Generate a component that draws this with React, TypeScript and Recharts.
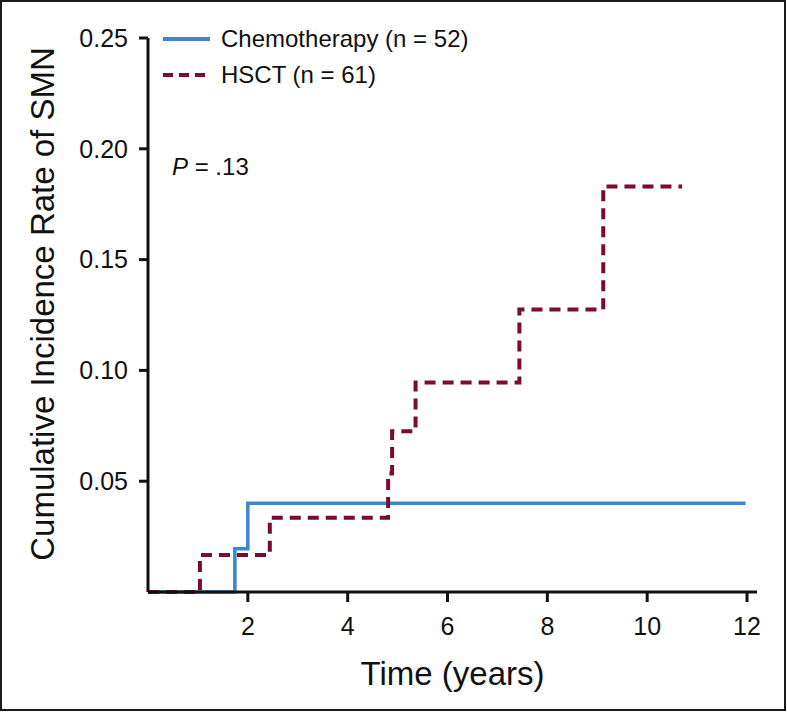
import React from 'react';
import { LineChart, Line, XAxis, YAxis, Label } from 'recharts';

// competing-risk cumulative incidence of SMN
const chemoTimes = [0, 1.74, 2.0, 11.97];
const chemoRates = [0, 0.0195, 0.04, 0.04];
const hsctTimes = [0, 1.04, 2.44, 4.81, 4.89, 5.36, 7.44, 9.12, 10.7];
const hsctRates = [0, 0.0167, 0.0335, 0.0535, 0.0725, 0.0945, 0.1275, 0.183, 0.183];

const xTicks = [2, 4, 6, 8, 10, 12];
const yTicks = [0.05, 0.1, 0.15, 0.2, 0.25];

const seriesNames = ['Chemotherapy (n = 52)', 'HSCT (n = 61)'];
const pValueText = '= .13';

const BLUE = '#3d85d1';
const MAROON = '#7b0b31';
const FONT = "'Liberation Sans', Arial, Helvetica, sans-serif";

const chemoData = chemoTimes.map((t, i) => ({ x: t, y: chemoRates[i] }));
const hsctData = hsctTimes.map((t, i) => ({ x: t, y: hsctRates[i] }));

const legendItems = [
  { name: seriesNames[0], color: BLUE, dash: undefined as string | undefined },
  { name: seriesNames[1], color: MAROON, dash: '10 6' },
];

export default function App() {
  return (
    <div style={{ position: 'absolute', left: 0, top: 0, width: 787, height: 712, background: '#fff', fontFamily: FONT }}>
      <div
        style={{
          position: 'absolute',
          left: 0,
          top: 0,
          width: 786,
          height: 711,
          border: '2px solid #1a1a1a',
          boxSizing: 'border-box',
        }}
      />
      <div style={{ position: 'absolute', left: 0, top: 0 }}>
        <LineChart width={787} height={712} margin={{ top: 38, right: 30, bottom: 60, left: 68 }}>
          <XAxis
            type="number"
            dataKey="x"
            domain={[0, 12.2]}
            ticks={xTicks}
            allowDataOverflow
            tickSize={10}
            tickMargin={15}
            tick={{ fontSize: 25, fill: '#111', fontFamily: FONT }}
            stroke="#111"
            strokeWidth={3}
            height={60}
          >
            <Label value="Time (years)" position="bottom" offset={10} fontSize={33} fill="#111" fontFamily={FONT} />
          </XAxis>
          <YAxis
            type="number"
            dataKey="y"
            domain={[0, 0.25]}
            ticks={yTicks}
            tickFormatter={(v: number) => v.toFixed(2)}
            tickSize={9}
            tickMargin={11}
            tick={{ fontSize: 25, fill: '#111', fontFamily: FONT }}
            stroke="#111"
            strokeWidth={3}
            width={80}
          >
            <Label
              content={({ viewBox }: any) => {
                const cx = 54;
                const cy = viewBox.y + viewBox.height / 2 - 11;
                return (
                  <text
                    x={cx}
                    y={cy}
                    transform={`rotate(-90 ${cx} ${cy})`}
                    textAnchor="middle"
                    fontSize={33}
                    fill="#111"
                    fontFamily={FONT}
                  >
                    Cumulative Incidence Rate of SMN
                  </text>
                );
              }}
            />
          </YAxis>
          <Line
            data={chemoData}
            dataKey="y"
            type="stepAfter"
            stroke={BLUE}
            strokeWidth={3.5}
            dot={false}
            isAnimationActive={false}
            name={seriesNames[0]}
          />
          <Line
            data={hsctData}
            dataKey="y"
            type="stepAfter"
            stroke={MAROON}
            strokeWidth={4}
            strokeDasharray="11 7"
            dot={false}
            isAnimationActive={false}
            name={seriesNames[1]}
          />
        </LineChart>
      </div>

      {/* legend */}
      <div style={{ position: 'absolute', left: 163, top: 21 }}>
        {legendItems.map((item) => (
          <div key={item.name} style={{ display: 'flex', alignItems: 'center', height: 36 }}>
            <svg width={47} height={6} style={{ marginRight: 11 }}>
              <line x1={0} y1={3} x2={47} y2={3} stroke={item.color} strokeWidth={4} strokeDasharray={item.dash} />
            </svg>
            <span style={{ fontSize: 24, color: '#111', whiteSpace: 'nowrap' }}>{item.name}</span>
          </div>
        ))}
      </div>

      <div style={{ position: 'absolute', left: 172, top: 153, fontSize: 24, color: '#111', whiteSpace: 'nowrap' }}>
        <i>P</i> {pValueText}
      </div>
    </div>
  );
}
